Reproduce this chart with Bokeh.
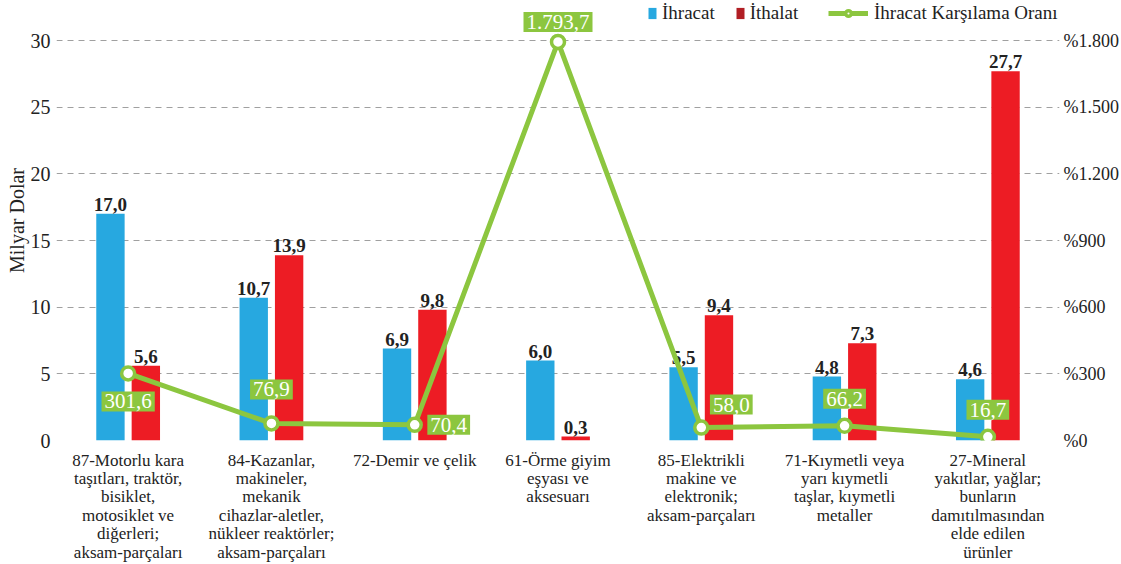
from bokeh.plotting import figure
from bokeh.models import (FactorRange, Range1d, LinearAxis, FixedTicker, ColumnDataSource,
                          Legend, LegendItem)
from bokeh.transform import dodge
from bokeh.core.properties import value
from bokeh.embed import file_html
from bokeh.resources import INLINE

categories = [
    "87-Motorlu kara\ntaşıtları, traktör,\nbisiklet,\nmotosiklet ve\ndiğerleri;\naksam-parçaları",
    "84-Kazanlar,\nmakineler,\nmekanik\ncihazlar-aletler,\nnükleer reaktörler;\naksam-parçaları",
    "72-Demir ve çelik",
    "61-Örme giyim\neşyası ve\naksesuarı",
    "85-Elektrikli\nmakine ve\nelektronik;\naksam-parçaları",
    "71-Kıymetli veya\nyarı kıymetli\ntaşlar, kıymetli\nmetaller",
    "27-Mineral\nyakıtlar, yağlar;\nbunların\ndamıtılmasından\nelde edilen\nürünler",
]
ihracat = [17.0, 10.7, 6.9, 6.0, 5.5, 4.8, 4.6]
ithalat = [5.6, 13.9, 9.8, 0.3, 9.4, 7.3, 27.7]
oran = [301.6, 76.9, 70.4, 1793.7, 58.0, 66.2, 16.7]
left_ticks = [0, 5, 10, 15, 20, 25, 30]
right_ticks = [0, 300, 600, 900, 1200, 1500, 1800]
right_tick_labels = ["%0", "%300", "%600", "%900", "%1.200", "%1.500", "%1.800"]
# label placement offsets for the ratio boxes (pixels)
oran_dx = [0, 0, 34, 0, 30, 0, 0]
oran_dy = [28, -34, 0, -20, -23, -27, -27]

def tr(v):
    s = f"{v:,.1f}"
    return s.replace(",", "X").replace(".", ",").replace("X", ".")

BLUE = "#27A8E0"
RED = "#ED1C24"
RED_LEG = "#B11E24"
GREEN = "#8CC63F"
FONT = "'Liberation Serif', serif"

src = ColumnDataSource(dict(
    cat=categories, ihracat=ihracat, ithalat=ithalat, oran=oran,
    ihr_lbl=[tr(v) for v in ihracat], ith_lbl=[tr(v) for v in ithalat],
    oran_lbl=[tr(v) for v in oran], dx=oran_dx, dy=oran_dy,
))

YMAX = 33.0
p = figure(frame_width=1003, frame_height=440,
           x_range=FactorRange(*categories, range_padding=0),
           y_range=Range1d(0, YMAX), output_backend="svg", toolbar_location=None,
           min_border_left=56, min_border_right=60, min_border_top=0, min_border_bottom=0)
p.extra_y_ranges = {"ratio": Range1d(0, YMAX * 60)}
p.outline_line_color = None
p.background_fill_color = "white"
p.border_fill_color = "white"

off = 0.1235
w = 0.198
p.vbar(x=dodge("cat", -off, range=p.x_range), top="ihracat", width=w, source=src,
       fill_color=BLUE, line_color=None)
p.vbar(x=dodge("cat", off, range=p.x_range), top="ithalat", width=w, source=src,
       fill_color=RED, line_color=None)

p.text(x=dodge("cat", -off, range=p.x_range), y="ihracat", text="ihr_lbl", source=src,
       text_align="center", text_baseline="bottom", y_offset=-3,
       text_font=value(FONT), text_font_size="19px", text_font_style="bold", text_color="#222222")
p.text(x=dodge("cat", off, range=p.x_range), y="ithalat", text="ith_lbl", source=src,
       text_align="center", text_baseline="bottom", y_offset=-3,
       text_font=value(FONT), text_font_size="19px", text_font_style="bold", text_color="#222222")

ln = p.line(x="cat", y="oran", source=src, y_range_name="ratio", line_color=GREEN, line_width=5)
cr = p.scatter(x="cat", y="oran", source=src, y_range_name="ratio", size=13,
               fill_color="white", line_color=GREEN, line_width=3.5)

p.text(x="cat", y="oran", text="oran_lbl", source=src, y_range_name="ratio",
       x_offset="dx", y_offset="dy", text_align="center", text_baseline="middle",
       text_font=value(FONT), text_font_size="21px", text_color="white",
       background_fill_color=GREEN, padding=3)

# axes
p.yaxis.ticker = FixedTicker(ticks=left_ticks)
p.yaxis.axis_line_color = None
p.yaxis.major_tick_line_color = None
p.yaxis.minor_tick_line_color = None
p.yaxis.major_tick_out = 0
p.yaxis.major_tick_in = 0
p.yaxis.minor_tick_out = 0
p.yaxis.minor_tick_in = 0
p.yaxis.major_label_text_font = FONT
p.yaxis.major_label_text_font_size = "20px"
p.yaxis.major_label_text_color = "#222222"
p.yaxis.major_label_standoff = 6
p.yaxis.axis_label = "Milyar Dolar"
p.yaxis.axis_label_text_font = FONT
p.yaxis.axis_label_text_font_size = "20px"
p.yaxis.axis_label_text_font_style = "normal"
p.yaxis.axis_label_text_color = "#222222"
p.yaxis.axis_label_standoff = 0

ra = LinearAxis(y_range_name="ratio", ticker=FixedTicker(ticks=right_ticks),
                major_label_overrides=dict(zip(right_ticks, right_tick_labels)))
ra.axis_line_color = None
ra.major_tick_line_color = None
ra.minor_tick_line_color = None
ra.major_tick_out = 0
ra.major_tick_in = 0
ra.minor_tick_out = 0
ra.minor_tick_in = 0
ra.major_label_text_font = FONT
ra.major_label_text_font_size = "18px"
ra.major_label_text_color = "#222222"
ra.major_label_standoff = 4
p.add_layout(ra, "right")

p.xaxis.axis_line_color = None
p.xaxis.major_tick_line_color = None
p.xaxis.minor_tick_line_color = None
p.xaxis.major_tick_out = 0
p.xaxis.major_tick_in = 0
p.xaxis.minor_tick_out = 0
p.xaxis.minor_tick_in = 0
p.xaxis.major_label_text_font = FONT
p.xaxis.major_label_text_font_size = "17px"
p.xaxis.major_label_text_color = "#222222"
p.xaxis.major_label_text_line_height = 0.97
p.xaxis.major_label_standoff = 10

p.xgrid.grid_line_color = None
p.ygrid.ticker = FixedTicker(ticks=left_ticks)
p.ygrid.grid_line_color = "#a0a0a0"
p.ygrid.grid_line_dash = "6 5"
p.ygrid.grid_line_width = 1.2

# legend glyph proxies
b1 = p.vbar(x=[categories[0]], top=[0], width=0, fill_color=BLUE, line_color=None, visible=False)
b2 = p.vbar(x=[categories[0]], top=[0], width=0, fill_color=RED_LEG, line_color=None, visible=False)

leg1 = Legend(items=[LegendItem(label="İhracat", renderers=[b1]),
                     LegendItem(label="İthalat", renderers=[b2])],
              orientation="horizontal", location=(591, 416), glyph_width=10, glyph_height=14,
              label_standoff=5, spacing=20, padding=0, margin=0,
              label_text_font=FONT, label_text_font_size="19px", label_text_color="#222222",
              background_fill_alpha=0, border_line_color=None)
leg2 = Legend(items=[LegendItem(label="İhracat Karşılama Oranı", renderers=[ln, cr])],
              orientation="horizontal", location=(772, 416), glyph_width=40, glyph_height=14,
              label_standoff=6, padding=0, margin=0,
              label_text_font=FONT, label_text_font_size="19px", label_text_color="#222222",
              background_fill_alpha=0, border_line_color=None)
p.add_layout(leg1)
p.add_layout(leg2)

open("out.html", "w").write(file_html(p, INLINE))
